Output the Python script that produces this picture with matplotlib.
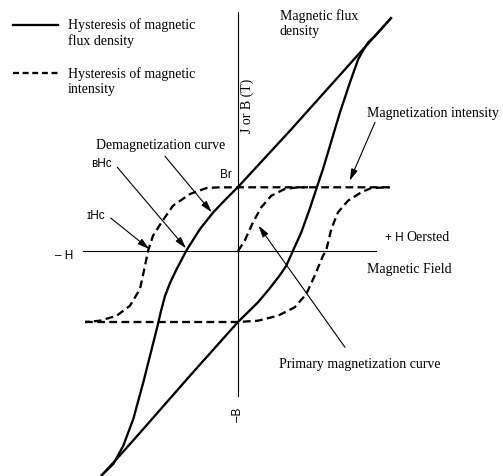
import matplotlib.pyplot as plt
from matplotlib.lines import Line2D

# ------------------------------
# Hysteresis loop data (H, B) in arbitrary units, origin at axis crossing
# ------------------------------
# flux density loop, descending branch (top right -> bottom left)
flux_desc_h = [153.7, 52, 0, -13, -24.7, -38, -51.3, -61.3, -68, -73, -77,
               -80.5, -86.3, -94.7, -104.7, -114.7, -124.7, -137]
flux_desc_b = [233.7, 120.3, 64, 51, 38.7, 22, 1, -18, -32, -45, -60,
               -75, -98, -131.3, -168, -194.7, -213, -225]

# flux density loop, ascending branch (bottom left -> top right)
flux_asc_h = [-137, -121.3, -94.7, -48, 0, 20, 32, 42, 48.3, 55, 63.3, 71.7,
              78.3, 85, 92, 102, 112, 120.3, 126, 130.3, 137, 153.7]
flux_asc_b = [-225, -208, -178, -124.7, -71, -51.3, -37, -24, -14.7, 0.3, 18.7,
              42, 62, 82, 105.3, 138.7, 168.7, 192, 202, 208.7, 215, 233.7]

# magnetization intensity loop
int_desc_h = [151.7, 0, -20, -31.3, -48, -65, -76.3, -85, -89.7, -93, -98,
              -108, -121.3, -138, -153]
int_desc_b = [63.7, 63.7, 63.6, 63, 57, 45.3, 29, 15.3, 1, -14.7, -38,
              -54.7, -64.7, -69.7, -71]
int_asc_h = [-153, 0, 20, 40, 56.7, 68.3, 76.7, 85, 88.3, 93.3, 100, 110,
             123.3, 133.3, 151.7]
int_asc_b = [-71, -71, -69.7, -64.7, -56.3, -43, -24.7, -4.7, 1, 22, 38.7,
             50.3, 58.7, 63, 63.7]

# primary magnetization curve
prim_h = [0, 6.7, 15, 23.3, 33.3, 46.7, 60, 70]
prim_b = [0, 10.3, 28.7, 43.7, 55.3, 62, 63.7, 63.7]

# axis extents
h_axis = [-155, 138]
b_axis = [-145, 239]

SERIF = ['Liberation Serif', 'DejaVu Serif']
SANS = ['Liberation Sans', 'DejaVu Sans']
LW = 1.65
DASH = (3.4, 1.9)

fig = plt.figure(figsize=(5.03, 4.77), dpi=100)
ax = fig.add_axes([0, 0, 1, 1])
ax.set_xlim(-238, 265)
ax.set_ylim(-225, 252)
ax.axis('off')

# axes
ax.plot(h_axis, [0, 0], color='black', lw=0.8)
ax.plot([0, 0], b_axis, color='black', lw=0.8)

# loops
ax.plot(flux_desc_h, flux_desc_b, color='black', lw=LW, solid_capstyle='butt')
ax.plot(flux_asc_h, flux_asc_b, color='black', lw=LW, solid_capstyle='butt')
for hh, bb in [(int_desc_h, int_desc_b), (int_asc_h, int_asc_b),
               (prim_h, prim_b)]:
    ax.plot(hh, bb, color='black', lw=LW, linestyle=(0, DASH))

# legend drawn by hand so the sample line sits on the first text line
ax.add_line(Line2D([-224.7, -179.7], [226.3, 226.3], color='black', lw=LW))
ax.add_line(Line2D([-224.7, -179.7], [178, 178], color='black', lw=LW,
                   linestyle=(0, (2.6, 1.6))))
ax.text(-170, 218.6, 'Hysteresis of magnetic\nflux density', family=SERIF,
        fontsize=10, va='center', ha='left', linespacing=1.18)
ax.text(-170, 170.3, 'Hysteresis of magnetic\nintensity', family=SERIF,
        fontsize=10, va='center', ha='left', linespacing=1.18)

# labels
ax.text(42, 228.5, 'Magnetic flux\ndensity', family=SERIF, fontsize=10,
        va='center', ha='left', linespacing=1.18)
ax.text(129, 139, 'Magnetization intensity', family=SERIF, fontsize=10,
        va='center', ha='left')
ax.text(-142, 107, 'Demagnetization curve', family=SERIF, fontsize=10,
        va='center', ha='left')
ax.text(41.3, -113, 'Primary magnetization curve', family=SERIF, fontsize=10,
        va='center', ha='left')
ax.text(129, -18, 'Magnetic Field', family=SERIF, fontsize=10,
        va='center', ha='left')
ax.text(147, 14, '+ H', family=SANS, fontsize=8.5, va='center', ha='left')
ax.text(168.5, 14, 'Oersted', family=SERIF, fontsize=10, va='center', ha='left')
ax.text(9, 146, 'J or B (T)', family=SERIF, fontsize=10, rotation=90,
        va='center', ha='center')
ax.text(0, -163, '\u2013B', family=SANS, fontsize=8.5, rotation=90,
        va='center', ha='center')
ax.text(-174, -4, '\u2013 H', family=SANS, fontsize=8.5, va='center', ha='center')
ax.text(-12, 77, 'Br', family=SANS, fontsize=8.5, va='center', ha='center')
ax.text(-137, 88, '\u0299Hc', family=SANS, fontsize=8.5, va='center', ha='center')
ax.text(-142, 36, '\u026aHc', family=SANS, fontsize=8.5, va='center', ha='center')

# pointer arrows: (tip, tail)
arrows = [((-26.3, 38.7), (-73, 94.7)),
          ((-52, 2.7), (-120.7, 83.7)),
          ((-88.7, 2), (-127.3, 33)),
          ((111.7, 70.3), (137, 128.7)),
          ((20.5, 25.3), (107, -96.3))]
for tip, tail in arrows:
    ax.annotate('', xy=tip, xytext=tail,
                arrowprops=dict(arrowstyle='-|>,head_length=0.7,head_width=0.2',
                                lw=0.8, color='black', shrinkA=0, shrinkB=0,
                                mutation_scale=10))

fig.savefig('out.png', dpi=100)
